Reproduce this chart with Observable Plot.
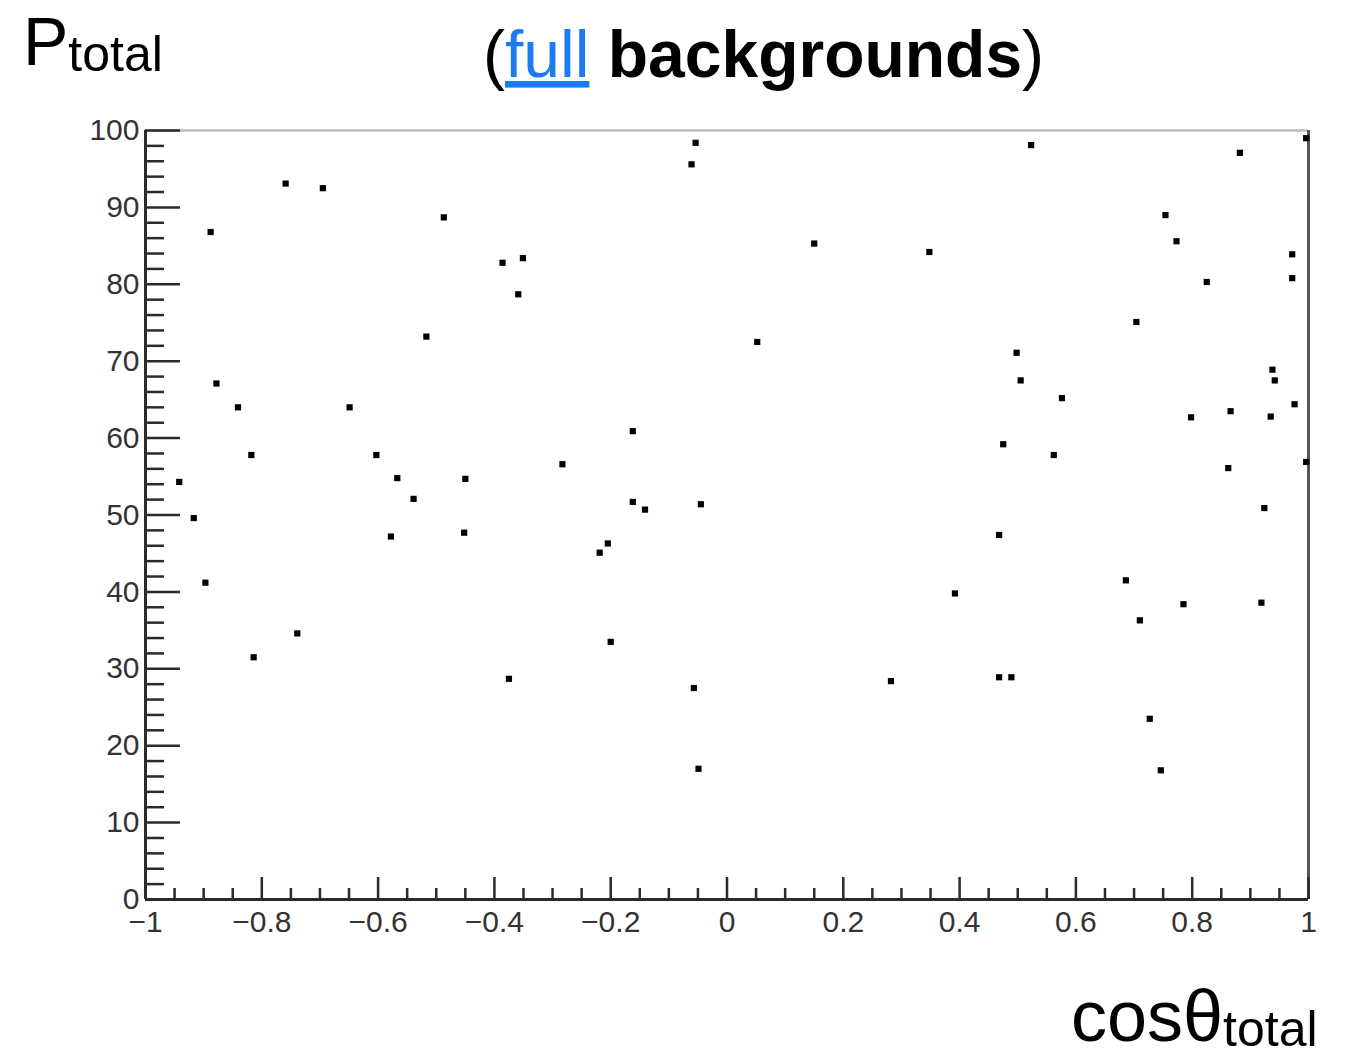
<!DOCTYPE html>
<html>
<head>
<meta charset="utf-8">
<script src="https://cdn.jsdelivr.net/npm/d3@7"></script>
<script src="https://cdn.jsdelivr.net/npm/@observablehq/plot@0.6"></script>
<style>
  html, body { margin: 0; padding: 0; background: #fff; }
  #chart { position: relative; width: 1353px; height: 1054px; overflow: hidden; }
  #chart svg { display: block; }
</style>
</head>
<body>
<div id="chart"></div>
<script>
// Event-level values: polar-angle cosine and total momentum
const cosTheta = [
  -0.759, -0.695, -0.487, -0.888, -0.386, -0.351, -0.359, -0.517, -0.878, -0.841,
  -0.649, -0.818, -0.603, -0.942, -0.567, -0.450, -0.539, -0.917, -0.897, -0.578,
  -0.452, -0.739, -0.814, -0.375, -0.054, -0.061, 0.150, 0.348, 0.052, -0.162,
  -0.283, -0.162, -0.141, -0.045, -0.205, -0.219, -0.200, -0.057, -0.049, 0.282,
  0.523, 0.882, 0.996, 0.754, 0.773, 0.972, 0.972, 0.825, 0.704, 0.498,
  0.505, 0.938, 0.942, 0.576, 0.976, 0.866, 0.798, 0.935, 0.475, 0.562,
  0.862, 0.996, 0.924, 0.468, 0.392, 0.686, 0.785, 0.919, 0.710, 0.468,
  0.489, 0.727, 0.746
];
const pTotal = [
  93.1, 92.5, 88.7, 86.8, 82.8, 83.4, 78.7, 73.2, 67.1, 64.0,
  64.0, 57.8, 57.8, 54.3, 54.8, 54.7, 52.1, 49.6, 41.2, 47.2,
  47.7, 34.6, 31.5, 28.7, 98.4, 95.6, 85.3, 84.2, 72.5, 60.9,
  56.6, 51.7, 50.7, 51.4, 46.3, 45.1, 33.5, 27.5, 17.0, 28.4,
  98.1, 97.1, 99.0, 89.0, 85.6, 83.9, 80.8, 80.3, 75.1, 71.1,
  67.5, 68.9, 67.5, 65.2, 64.4, 63.5, 62.7, 62.8, 59.2, 57.8,
  56.1, 56.9, 50.9, 47.4, 39.8, 41.5, 38.4, 38.6, 36.3, 28.9,
  28.9, 23.5, 16.8
];

// Axis ticks
const xMajor = [-1, -0.8, -0.6, -0.4, -0.2, 0, 0.2, 0.4, 0.6, 0.8, 1];
const yMajor = [0, 10, 20, 30, 40, 50, 60, 70, 80, 90, 100];
const xMinor = d3.range(-20, 21).filter(i => i % 4 !== 0).map(i => i / 20);
const yMinor = d3.range(0, 101, 2).filter(v => v % 10 !== 0);

const events = cosTheta.map((c, i) => ({c, p: pTotal[i]}));

const W = 1353, H = 1054;
const mL = 145, mR = 45, mT = 130, mB = 155;
const frameW = W - mL - mR, frameH = H - mT - mB;

const fmt = d => String(d).replace("-", "\u2212");
const ink = "#2b2b2b";

const chart = Plot.plot({
  width: W,
  height: H,
  marginLeft: mL,
  marginRight: mR,
  marginTop: mT,
  marginBottom: mB,
  style: {fontFamily: "'Liberation Sans', Arial, sans-serif", background: "#fff"},
  x: {domain: [-1, 1]},
  y: {domain: [0, 100]},
  marks: [
    // frame: light top edge, darker right edge
    Plot.ruleY([100], {stroke: "#bdbdbd", strokeWidth: 2.5}),
    Plot.ruleX([1], {stroke: "#555", strokeWidth: 3}),
    // inward ticks
    Plot.tickX(xMajor, {x: d => d, stroke: ink, strokeWidth: 2.5, insetTop: frameH - 22}),
    Plot.tickX(xMinor, {x: d => d, stroke: ink, strokeWidth: 2.5, insetTop: frameH - 11}),
    Plot.tickY(yMajor, {y: d => d, stroke: ink, strokeWidth: 2.5, insetRight: frameW - 35}),
    Plot.tickY(yMinor, {y: d => d, stroke: ink, strokeWidth: 2.5, insetRight: frameW - 19}),
    // axis lines
    Plot.ruleX([-1], {stroke: ink, strokeWidth: 3}),
    Plot.ruleY([0], {stroke: ink, strokeWidth: 3}),
    // tick labels
    Plot.axisX({ticks: xMajor, tickSize: 0, tickPadding: 11, tickFormat: fmt, label: null,
                fontSize: 30, fill: "#333", stroke: "#333", strokeWidth: 0.6}),
    Plot.axisY({ticks: yMajor, tickSize: 0, tickPadding: 6, tickFormat: fmt, label: null,
                fontSize: 30, fill: "#333", stroke: "#333", strokeWidth: 0.6}),
    // events
    Plot.dot(events, {x: "c", y: "p", symbol: "square", r: 3.5, fill: "#000", stroke: "none"})
  ]
});

document.getElementById("chart").appendChild(chart);

// Title and axis titles
const svg = d3.select(chart);
const font = "'Liberation Sans', Arial, sans-serif";

const title = svg.append("text")
  .attr("x", 483).attr("y", 77).attr("text-anchor", "start")
  .attr("font-family", font).attr("font-size", 66).attr("fill", "#000");
title.append("tspan").text("(");
title.append("tspan").attr("fill", "#1a7cf0").attr("text-decoration", "underline").text("full");
title.append("tspan").attr("font-weight", "bold").text(" backgrounds");
title.append("tspan").text(")");

const yTitle = svg.append("text")
  .attr("x", 23).attr("y", 65).attr("text-anchor", "start")
  .attr("font-family", font).attr("font-size", 68).attr("fill", "#000");
yTitle.append("tspan").text("P");
yTitle.append("tspan").attr("font-size", 50).attr("dy", 6).text("total");

const xTitle = svg.append("text")
  .attr("x", 1071).attr("y", 1041).attr("text-anchor", "start")
  .attr("font-family", font).attr("font-size", 72).attr("fill", "#000");
xTitle.append("tspan").text("cos\u03b8");
xTitle.append("tspan").attr("font-size", 50).attr("dy", 5).text("total");
</script>
</body>
</html>
